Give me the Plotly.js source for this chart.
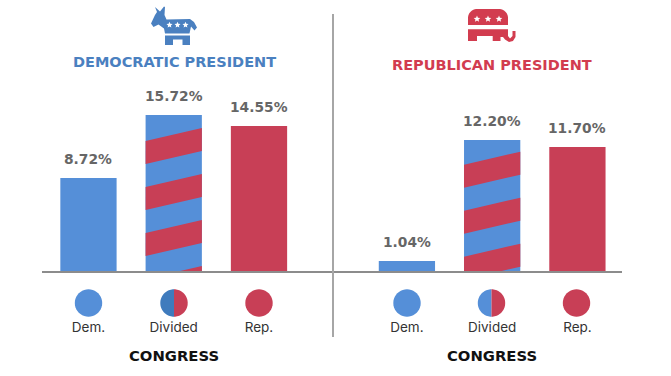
<!DOCTYPE html>
<html><head><meta charset="utf-8">
<script src="https://cdn.plot.ly/plotly-3.0.1.min.js"></script>
<style>html,body{margin:0;padding:0;background:#fff}#c{width:671px;height:376px}</style>
</head><body><div id="c"></div>
<script>
var categories = ['Dem.', 'Divided', 'Rep.'];
// Printed returns
var demLabels = [8.72, 15.72, 14.55];
var repLabels = [1.04, 12.20, 11.70];
// Bar lengths as drawn in the picture (the artwork is not strictly to scale with its labels)
var demDrawn = [9.4, 15.7, 14.6];
var repDrawn = [1.1, 13.2, 12.5];

var W = 671, H = 376;
var BLUE = '#558fd8', RED = '#c83f56', DARKBLUE = '#3f7bbd';
var barFrac = 0.66;
var BOLD = '"DejaVu Sans", sans-serif';
function px(x){return x/W;}
function py(y){return 1-y/H;}
function P(pts){ // pixel polygon -> paper path
  return pts.map(function(p,i){return (i?'L':'M')+px(p[0]).toFixed(5)+','+py(p[1]).toFixed(5);}).join(' ')+' Z';
}
function star(cx,cy,r){
  var a=[];for(var i=0;i<10;i++){var R=i%2?r*0.45:r,t=-Math.PI/2+i*Math.PI/5;a.push([cx+R*Math.cos(t),cy+R*Math.sin(t)]);}
  return a;
}
function arc(cx,cy,r,a0,a1){
  var a=[];for(var i=0;i<=40;i++){var t=a0+(a1-a0)*i/40;a.push([cx+r*Math.cos(t),cy+r*Math.sin(t)]);}
  return a;
}
function clipY(poly,y,keepAbove){
  var out=[];
  for(var i=0;i<poly.length;i++){
    var a=poly[i],b=poly[(i+1)%poly.length];
    var ia=keepAbove?a[1]>=y:a[1]<=y, ib=keepAbove?b[1]>=y:b[1]<=y;
    if(ia)out.push(a);
    if(ia!==ib){var t=(y-a[1])/(b[1]-a[1]);out.push([a[0]+t*(b[0]-a[0]),y]);}
  }
  return out;
}
function stripes(idx,top,phase,xa){
  var l=idx-barFrac/2,r=idx+barFrac/2,res=[];
  for(var s=phase;s+1.3<top;s+=4.6){
    var q=[[l,s],[r,s+1.3],[r,s+3.6],[l,s+2.3]];
    q=clipY(clipY(q,0,true),top,false);
    if(q.length<3)continue;
    q.push(q[0]);
    res.push({type:'scatter',mode:'lines',fill:'toself',fillcolor:RED,line:{width:0},hoverinfo:'skip',
      x:q.map(function(p){return p[0];}),y:q.map(function(p){return p[1];}),xaxis:xa,yaxis:'y',showlegend:false});
  }
  return res;
}
function bars(vals,xa){
  return {type:'bar',x:[0,1,2],y:vals,width:barFrac,xaxis:xa,yaxis:'y',showlegend:false,hoverinfo:'skip',
    marker:{color:[BLUE,BLUE,RED],line:{width:0}}};
}
var data=[bars(demDrawn,'x'),bars(repDrawn,'x2')]
  .concat(stripes(1,demDrawn[1],-3.0,'x'))
  .concat(stripes(1,repDrawn[1],-0.77,'x2'));

var tickFont={family:'Inter, Roboto, sans-serif',size:13.5,color:'#333'};
function xaxis(dom,range){
  return {domain:dom,range:range,anchor:'y',type:'linear',tickmode:'array',tickvals:[0,1,2],ticktext:categories,
    ticks:'',ticklen:0,ticklabelstandoff:43,tickfont:tickFont,showgrid:false,zeroline:false,showline:true,
    linecolor:'#8c8c8c',linewidth:2,fixedrange:true};
}
var labelFont={family:BOLD,size:13.8,color:'#666',weight:700};
var annotations=[];
function addLabels(vals,drawn,xa){
  vals.forEach(function(v,i){
    annotations.push({x:i,y:drawn[i],xref:xa,yref:'y',text:v.toFixed(2)+'%',showarrow:false,xanchor:'center',yanchor:'bottom',yshift:9,font:labelFont});
  });
}
addLabels(demLabels,demDrawn,'x');
addLabels(repLabels,repDrawn,'x2');
function paperText(x,y,t,size,color){
  annotations.push({x:px(x),y:py(y),xref:'paper',yref:'paper',text:t,showarrow:false,xanchor:'center',yanchor:'middle',
    font:{family:BOLD,size:size,color:color,weight:700}});
}
paperText(174,62,'DEMOCRATIC PRESIDENT',14.5,'#4a80c0');
paperText(492,65,'REPUBLICAN PRESIDENT',14.5,'#d23c4f');
paperText(174,355,'CONGRESS',14.8,'#111');
paperText(492,355,'CONGRESS',14.8,'#111');

var shapes=[{type:'line',xref:'paper',yref:'paper',x0:px(333),x1:px(333),y0:py(14),y1:py(337),line:{color:'#a6a6a6',width:2}}];
function sh(path,color){shapes.push({type:'path',xref:'paper',yref:'paper',path:path,fillcolor:color,line:{width:0}});}
// Legend discs under the axis
[[88.5,BLUE],[259,RED],[407,BLUE],[576.5,RED]].forEach(function(c){sh(P(arc(c[0],303,13.7,0,2*Math.PI)),c[1]);});
sh(P(arc(174,303,13.7,Math.PI/2,3*Math.PI/2)),DARKBLUE);
sh(P(arc(174,303,13.7,-Math.PI/2,Math.PI/2)),RED);
sh(P(arc(491.5,303,13.7,Math.PI/2,3*Math.PI/2)),BLUE);
sh(P(arc(491.5,303,13.7,-Math.PI/2,Math.PI/2)),RED);
// Donkey
var D='#4a80c0';
sh(P([[155,7],[160,11.5],[164,6.5],[165,7],[164.5,15],[166.5,19.5],[190,19],[194,22],[197,27.5],[194.5,30.5],[191,26.5],[189.5,33.5],[165,33.5],[164,28.5],[158.5,24.5],[153.5,27],[151,23.5],[155,15],[157,12]]),D);
sh(P([[165,35.5],[190,35.5],[190,45],[182.5,45],[182.5,39.5],[173,39.5],[173,45],[165,45]]),D);
[169.5,177.5,185.5].forEach(function(x){sh(P(star(x,25,3.2)),'#fff');});
// Elephant
var E='#d23c4f';
sh(P([[468,25],[468,18]].concat(arc(477,18,9,Math.PI,1.5*Math.PI)).concat(arc(499,18,9,-Math.PI/2,0)).concat([[508,25]])),E);
sh(P([[468,29.3],[508,29.3],[508,36],[510,38.5],[512.5,36],[512.5,31],[515.5,31],[515.5,37],[513,41],[509,42],[505,39.5],[503,37],[500.5,37],[500.5,41],[492.7,41],[492.7,36],[477,36],[477,41],[468,41]]),E);
[477,488,499].forEach(function(x){sh(P(star(x,19,3.5)),'#fff');});

var layout={width:W,height:H,margin:{l:0,r:0,t:0,b:0},paper_bgcolor:'#fff',plot_bgcolor:'#fff',showlegend:false,barmode:'overlay',
  xaxis:xaxis([px(42),px(333)],[-0.545,2.868]),
  xaxis2:xaxis([px(333),px(622)],[-0.867,2.523]),
  yaxis:{domain:[py(271),1],range:[0.1,27.2],visible:false,fixedrange:true},
  annotations:annotations,shapes:shapes,font:{family:BOLD}};
Plotly.newPlot('c',data,layout,{displayModeBar:false,staticPlot:true});
</script></body></html>
